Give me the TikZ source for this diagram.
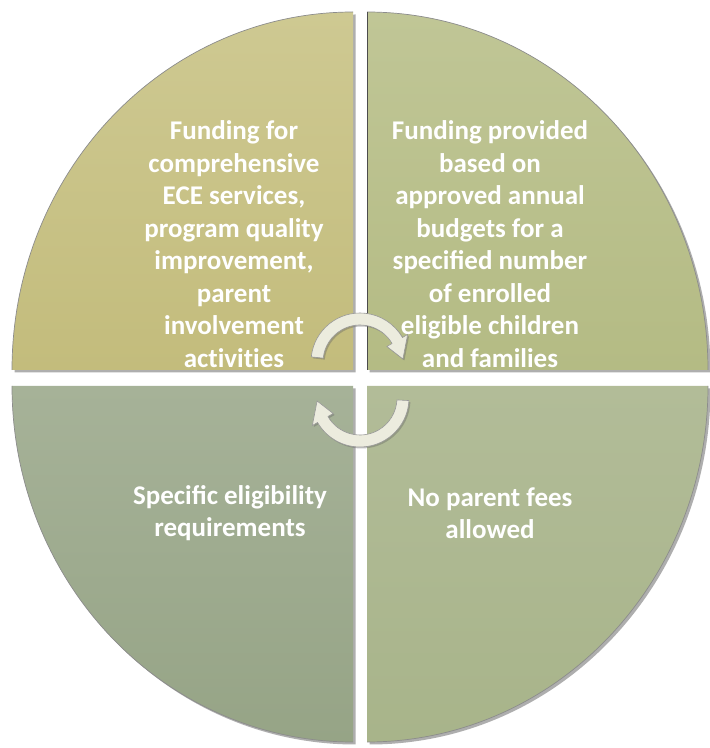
\documentclass[tikz,border=0pt]{standalone}
\usepackage{fontspec}
\setmainfont{Carlito}
\usetikzlibrary{shadows}
\definecolor{tlA}{RGB}{206,201,146}
\definecolor{tlB}{RGB}{195,188,124}
\definecolor{trA}{RGB}{192,198,150}
\definecolor{trB}{RGB}{180,187,132}
\definecolor{blA}{RGB}{166,178,152}
\definecolor{blB}{RGB}{150,164,134}
\definecolor{brA}{RGB}{178,188,152}
\definecolor{brB}{RGB}{168,180,138}
\definecolor{cream}{RGB}{236,236,222}
\tikzset{
  quad/.style={drop shadow={shadow xshift=2.5pt,shadow yshift=-2.5pt,opacity=.45,fill=black!70}},
  rim/.style={draw=black!45,line width=0.7pt},
  lbl/.style={text=white,font=\bfseries\fontsize{27}{32.5}\selectfont,align=center,inner sep=0pt},
  cyc/.style={fill=cream,draw=black!40,line width=0.6pt,
    drop shadow={shadow xshift=1.5pt,shadow yshift=-1.5pt,opacity=.4,fill=black!60}}
}
\begin{document}
\begin{tikzpicture}[x=1pt,y=1pt]
\useasboundingbox[fill=white] (0,0) rectangle (710,748);
% quadrants
\path[quad,top color=tlA,bottom color=tlB] (353,378) -- (12,378) arc[start angle=180,end angle=90,x radius=341pt,y radius=358pt] -- cycle;
\path[quad,top color=trA,bottom color=trB] (367,378) -- (367,736) arc[start angle=90,end angle=0,x radius=341pt,y radius=358pt] -- cycle;
\path[quad,top color=blA,bottom color=blB] (353,362) -- (12,362) arc[start angle=180,end angle=270,x radius=341pt,y radius=356pt] -- cycle;
\path[quad,top color=brA,bottom color=brB] (367,362) -- (708,362) arc[start angle=0,end angle=-90,x radius=341pt,y radius=356pt] -- cycle;
% rims
\draw[rim] (12,378) arc[start angle=180,end angle=90,x radius=341pt,y radius=358pt];
\draw[rim] (367,736) arc[start angle=90,end angle=0,x radius=341pt,y radius=358pt];
\draw[rim] (12,362) arc[start angle=180,end angle=270,x radius=341pt,y radius=356pt];
\draw[rim] (708,362) arc[start angle=0,end angle=-90,x radius=341pt,y radius=356pt];
\draw[black!70,line width=0.8pt] (367.4,378) -- (367.4,736);
% labels
\node[lbl] (tl) at (234,504) {Funding for\\comprehensive\\ECE services,\\program quality\\improvement,\\parent\\involvement\\act\kern0pt ivit\kern0pt ies};
\node[lbl] (tr) at (490,504) {Funding provided\\based on\\approved annual\\budgets for a\\specified number\\of enrolled\\eligible children\\and families};
\node[lbl] (bl) at (230,235) {Specific eligibility\\requirements};
\node[lbl] (br) at (490,235) {No parent fees\\allowed};
% cycle arrows
\begin{scope}[shift={(360,386)}]
\path[cyc] (174:37) -- (174:49) arc[start angle=174,end angle=30,radius=49pt] -- (30:55) -- (4:43) -- (30:31) -- (30:37) arc[start angle=30,end angle=174,radius=37pt] -- cycle;
\end{scope}
\begin{scope}[shift={(360,350)}]
\path[cyc] (-3:37) -- (-3:49) arc[start angle=-3,end angle=-150,radius=49pt] -- (-150:55) -- (-176:43) -- (-150:31) -- (-150:37) arc[start angle=-150,end angle=-3,radius=37pt] -- cycle;
\end{scope}
\end{tikzpicture}
\end{document}
